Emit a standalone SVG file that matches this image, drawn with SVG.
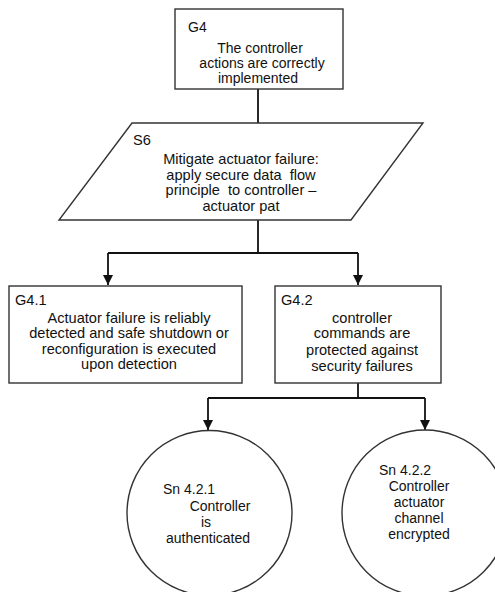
<svg xmlns="http://www.w3.org/2000/svg" width="495" height="592" viewBox="0 0 495 592">
  <defs>
    <marker id="arrow" viewBox="0 0 10 10" refX="10" refY="5" markerWidth="10" markerHeight="10" markerUnits="userSpaceOnUse" orient="auto">
      <path d="M0,0 L10,5 L0,10 Z" fill="#111"/>
    </marker>
  </defs>
  <style>
    .shape { fill: #fff; stroke: #333; stroke-width: 1.4; }
    .link { fill: none; stroke: #111; stroke-width: 1.8; }
    text { font-family: "Liberation Sans", Arial, sans-serif; font-size: 14px; fill: #111; white-space: pre; }
    .big { font-size: 14.6px; }
    .c { text-anchor: middle; }
  </style>
  <rect width="495" height="592" fill="#fff"/>

  <g id="connectors">
    <line class="link" x1="258" y1="89" x2="258" y2="123"/>
    <polyline class="link" points="258,220 258,253"/>
    <polyline class="link" points="108,253 358,253"/>
    <line class="link" x1="108" y1="253" x2="108" y2="285" marker-end="url(#arrow)"/>
    <line class="link" x1="358" y1="253" x2="358" y2="285" marker-end="url(#arrow)"/>
    <line class="link" x1="358" y1="383" x2="358" y2="398"/>
    <polyline class="link" points="208,398 425,398"/>
    <line class="link" x1="208" y1="398" x2="208" y2="430" marker-end="url(#arrow)"/>
    <line class="link" x1="425" y1="398" x2="425" y2="430" marker-end="url(#arrow)"/>
  </g>

  <g id="G4">
    <rect class="shape" x="175" y="9" width="168" height="80"/>
    <text x="188" y="32">G4</text>
    <text class="c" x="260" y="53">The controller</text>
    <text class="c" x="262" y="68">actions are correctly</text>
    <text class="c" x="258" y="83">implemented</text>
  </g>

  <g id="S6">
    <polygon class="shape" points="132,123 423,123 351,220 59,220"/>
    <text class="big" x="133" y="145">S6</text>
    <text class="c big" x="241" y="164">Mitigate actuator failure:</text>
    <text class="c big" x="241" y="180">apply secure data  flow</text>
    <text class="c big" x="241" y="195">principle  to controller –</text>
    <text class="c big" x="241" y="211">actuator pat</text>
  </g>

  <g id="G4.1">
    <rect class="shape" x="9" y="286" width="233" height="97"/>
    <text class="big" x="15" y="305">G4.1</text>
    <text class="c big" x="129" y="323">Actuator failure is reliably</text>
    <text class="c big" x="129" y="338">detected and safe shutdown or</text>
    <text class="c big" x="129" y="354">reconfiguration is executed</text>
    <text class="c big" x="129" y="369">upon detection</text>
  </g>

  <g id="G4.2">
    <rect class="shape" x="275" y="286" width="166" height="97"/>
    <text class="big" x="281" y="305">G4.2</text>
    <text class="c big" x="362" y="323">controller</text>
    <text class="c big" x="362" y="338">commands are</text>
    <text class="c big" x="362" y="355">protected against</text>
    <text class="c big" x="362" y="371">security failures</text>
  </g>

  <g id="Sn4.2.1">
    <circle class="shape" cx="209.5" cy="513" r="82.5"/>
    <text x="163" y="494">Sn 4.2.1</text>
    <text class="c" x="220" y="511">Controller</text>
    <text class="c" x="206" y="527">is</text>
    <text class="c" x="208" y="543">authenticated</text>
  </g>

  <g id="Sn4.2.2">
    <circle class="shape" cx="425" cy="513" r="83"/>
    <text x="379" y="475">Sn 4.2.2</text>
    <text class="c" x="419" y="491">Controller</text>
    <text class="c" x="419" y="507">actuator</text>
    <text class="c" x="419" y="523">channel</text>
    <text class="c" x="419" y="539">encrypted</text>
  </g>
</svg>
